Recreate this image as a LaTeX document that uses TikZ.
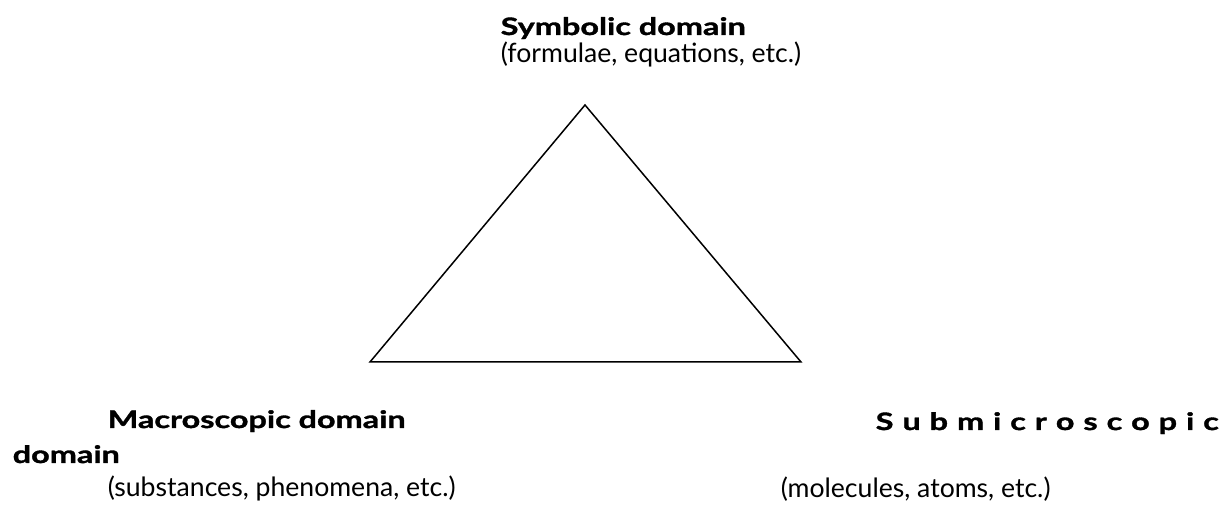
\documentclass[tikz,border=0pt]{standalone}
\usepackage{fontspec}
\setmainfont{Lato}
\newfontfamily\headfont[FakeStretch=1.35,FakeBold=1.4]{Lato}
\begin{document}
\begin{tikzpicture}[x=0.5pt, y=-0.5pt, line width=0.75pt,
  font=\fontsize{13.3}{15}\selectfont,
  every node/.style={inner sep=0pt, anchor=base west},
  head/.style={font=\headfont\bfseries\fontsize{12}{14}\selectfont}]
  \useasboundingbox (0,0) rectangle (1225,506);
  \coordinate (top) at (585,105);
  \coordinate (left) at (370,362);
  \coordinate (right) at (801,362);
  \draw[line join=miter] (top) -- (left) -- (right) -- cycle;
  \node[head] (sym) at (500,35) {Symbolic domain};
  \node (symnote) at (500,63) {(formulae, equations, etc.)};
  \node[head] (macro) at (107,428) {Macroscopic domain};
  \node[head] (sub) at (875,430) {\hbox to 171.5pt{S\hfil u\hfil b\hfil m\hfil i\hfil c\hfil r\hfil o\hfil s\hfil c\hfil o\hfil p\hfil i\hfil c}};
  \node[head] (subtail) at (12,463) {domain};
  \node (macronote) at (107,497) {(substances, phenomena, etc.)};
  \node (subnote) at (780,498) {(molecules, atoms, etc.)};
\end{tikzpicture}
\end{document}
